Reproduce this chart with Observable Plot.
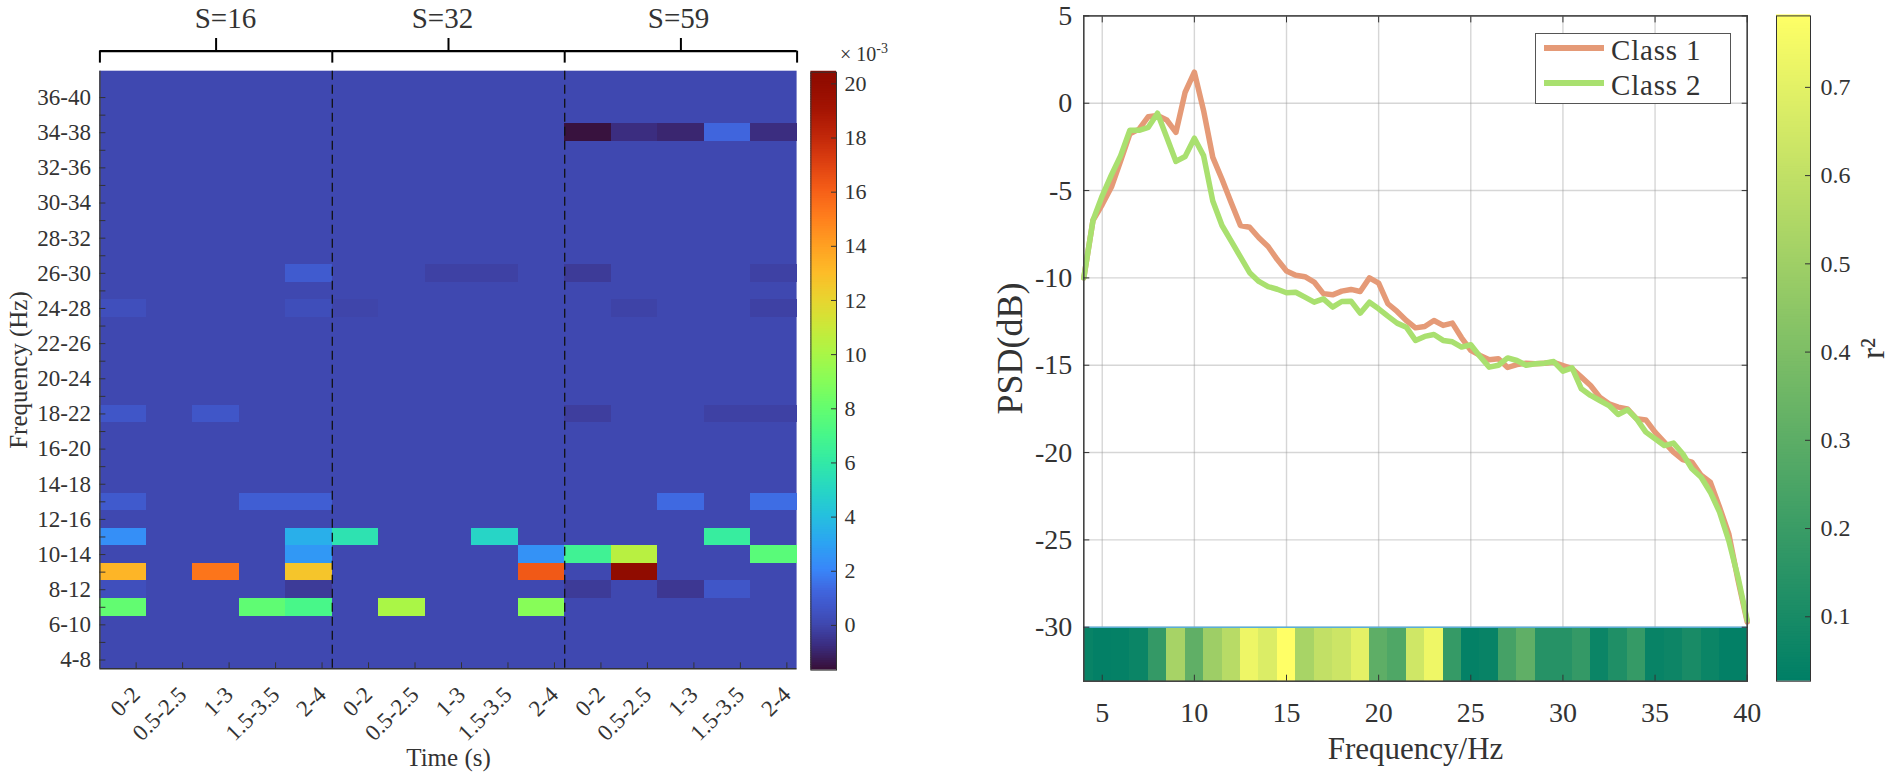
<!DOCTYPE html>
<html><head><meta charset="utf-8">
<script src="https://cdn.jsdelivr.net/npm/d3@7"></script>
<script src="https://cdn.jsdelivr.net/npm/@observablehq/plot@0.6"></script>
<style>
html,body{margin:0;padding:0;background:#fff}
#page{position:relative;width:1901px;height:781px;overflow:hidden;font-family:"Liberation Serif",serif;color:#333}
#page svg{position:absolute;overflow:visible;background:transparent}
.note{position:absolute;white-space:nowrap}
#legend{position:absolute;left:1535px;top:33px;width:194px;height:69px;background:#fff;border:1px solid #555;font-size:29px;letter-spacing:.8px;line-height:30px}
#legend .row{position:absolute;left:8px;display:flex;align-items:center;height:30px}
#legend .swatch{width:60px;height:5.5px;margin-right:7px;position:relative;top:-2px}
</style></head><body><div id="page"></div>
<script>
// --- heatmap: sessions, time windows, frequency bands ---
const timeWindows = ["0-2","0.5-2.5","1-3","1.5-3.5","2-4"];
const sessions = [{label:"S=16",start:0,end:5,at:2.7},{label:"S=32",start:5,end:10,at:7.37},{label:"S=59",start:10,end:15,at:12.45}];
const bandCount = 34, firstBand = 4;
// [column, band start (Hz), value ×10^-3]; every other cell is 0
const cellsS16 = [[4,26,0.8],[0,24,0.3],[4,24,0.25],[0,18,0.6],[2,18,0.6],[0,13,0.75],[3,13,0.9],[4,13,0.9],
  [0,11,2.3],[4,11,3.4],[4,10,2.6],[0,9,13.2],[2,9,15.3],[4,9,12.6],[0,8,0.3],[4,8,-0.4],[0,7,7.9],[3,7,7.8],[4,7,7.0]];
const cellsS32 = [[7,26,-0.2],[8,26,-0.2],[5,24,-0.1],[5,11,5.6],[8,11,4.9],[9,10,2.4],[9,9,16.2],[6,7,10.0],[9,7,9.0]];
const cellsS59 = [[10,34,-1.6],[11,34,-0.8],[12,34,-1.0],[13,34,1.2],[14,34,-0.8],[10,26,-0.4],[14,26,-0.2],[11,24,-0.15],[14,24,-0.2],
  [10,18,-0.3],[13,18,-0.2],[14,18,-0.2],[12,13,1.3],[14,13,1.4],[13,11,6.2],[10,10,6.6],[11,10,10.4],[14,10,7.6],[11,9,20.4],
  [10,8,-0.4],[12,8,-0.5],[13,8,0.6]];
const heatDomain = [-1.65, 20.43];
const heatTicks = [0,2,4,6,8,10,12,14,16,18,20];
// colour map: low end, then turbo from 2 upward
const heatLowStops = [-1.65,-0.8,0,0.6,1.2];
const heatLowColors = ["#38103a","#3b2d80","#3f48b0","#4056c8","#4065dd"];
const heatHighStops = [2,3,4,5,6,7,8,9,10,11,12,13,14,15,16,17,18,19,20,20.43];
// --- PSD curves (0.5 Hz steps from 4 to 40 Hz) ---
const psdFreq = d3.range(73).map(i => 4 + i*0.5);
const class1 = [-10,-6.7,-5.8,-4.8,-3.3,-1.75,-1.48,-0.77,-0.7,-0.96,-1.67,0.63,1.78,-0.42,-3.1,-4.35,-5.7,-7,-7.1,-7.7,-8.2,-8.95,-9.6,-9.85,-9.93,-10.24,-10.9,-10.97,-10.76,-10.66,-10.78,-10,-10.3,-11.48,-11.92,-12.44,-12.86,-12.78,-12.44,-12.72,-12.59,-13.43,-14.15,-14.44,-14.69,-14.63,-15.13,-14.96,-14.88,-14.92,-14.88,-14.83,-15.02,-15.2,-15.68,-16.16,-16.83,-17.21,-17.4,-17.5,-18.07,-18.13,-18.83,-19.4,-19.98,-20.4,-20.55,-21.3,-21.7,-23.13,-24.65,-27.3,-29.7];
const class2 = [-10,-6.7,-5.3,-4.1,-3,-1.55,-1.55,-1.38,-0.57,-1.95,-3.33,-3.05,-2,-3,-5.6,-7,-7.9,-8.8,-9.7,-10.2,-10.5,-10.65,-10.85,-10.82,-11.1,-11.39,-11.2,-11.67,-11.35,-11.33,-12.02,-11.39,-11.77,-12.19,-12.59,-12.82,-13.58,-13.35,-13.24,-13.58,-13.66,-13.96,-13.83,-14.5,-15.11,-15,-14.58,-14.73,-15,-14.92,-14.88,-14.79,-15.34,-15.15,-16.35,-16.73,-17.02,-17.31,-17.82,-17.55,-18.07,-18.83,-19.21,-19.6,-19.46,-20.07,-20.93,-21.41,-22.27,-23.41,-25.04,-27.13,-29.6];
// --- r² strip (1 Hz cells centred on 4..40 Hz) ---
const stripFreq = d3.range(4,41);
const r2 = [.05,.035,.04,.06,.18,.52,.31,.495,.57,.73,.675,.781,.525,.60,.63,.70,.305,.26,.64,.735,.185,.04,.05,.23,.31,.14,.14,.18,.06,.12,.185,.05,.065,.10,.06,.035,.035];
const r2Domain = [.027,.781];
const r2Ticks = [.1,.2,.3,.4,.5,.6,.7];
const psdXTicks = [5,10,15,20,25,30,35,40];
const psdYTicks = [-30,-25,-20,-15,-10,-5,0,5];
const orange = "#e59a77", green = "#a9e06f", ink = "#333", summer = ["#007f66","#ffff66"];
const font = '"Liberation Serif", serif';
const page = document.getElementById("page");
function place(svg,left,top){svg.style.left=left+"px";svg.style.top=top+"px";page.appendChild(svg);}
const turboAt = v => d3.interpolateTurbo((v-heatDomain[0])/(heatDomain[1]-heatDomain[0]));
const heatFill = {type:"linear",
  domain:[...heatLowStops,...heatHighStops],
  range:[...heatLowColors,...heatHighStops.map(turboAt)],clamp:true};
const cells = [...cellsS16,...cellsS32,...cellsS59].map(([col,f,v])=>({col,row:f-firstBand,v}));
const rowTicks = d3.range(bandCount-1).map(r=>r+0.5);
const colTicks = d3.range(sessions.length*timeWindows.length).map(c=>c+0.5);
const groupEdges = [...sessions.map(s=>s.start),sessions[sessions.length-1].end];

// ---------- A: heatmap ----------
place(Plot.plot({
  width:805,height:781,marginLeft:99.4,marginRight:8.4,marginTop:70.7,marginBottom:112.7,
  style:{fontFamily:font,background:"transparent",color:ink},
  x:{type:"linear",domain:[0,15]},y:{type:"linear",domain:[0,bandCount]},
  color:heatFill,
  marks:[
    Plot.rect([{v:0}],{x1:()=>0,x2:()=>15,y1:()=>0,y2:()=>bandCount,fill:"v"}),
    Plot.rect(cells,{x1:"col",x2:d=>d.col+1,y1:"row",y2:d=>d.row+1,fill:"v",shapeRendering:"crispEdges"}),
    Plot.ruleX(sessions.slice(1),{x:"start",stroke:"#111",strokeWidth:1.3,strokeDasharray:"9,5"}),
    Plot.ruleX([0],{stroke:"#444",strokeWidth:1.5}),
    Plot.ruleY([0],{stroke:"#333",strokeWidth:1.5}),
    Plot.axisY({ticks:rowTicks,tickSize:-6,tickPadding:15,fontSize:23,label:null,
      tickFormat:t=>{const r=t-0.5;return r%2===0?`${firstBand+r}-${firstBand+r+4}`:"";}}),
    Plot.axisX({ticks:colTicks,tickSize:-6,tickPadding:28,fontSize:23,label:null,tickRotate:-45,dx:13,textStroke:"none",
      tickFormat:t=>timeWindows[(t-0.5)%timeWindows.length]}),
    // brackets above the sessions
    Plot.ruleY(sessions,{x1:"start",x2:"end",y:()=>bandCount+1.14,stroke:"#000",strokeWidth:2.2}),
    Plot.ruleX(groupEdges,{x:d=>d,y1:()=>bandCount+0.46,y2:()=>bandCount+1.14,stroke:"#000",strokeWidth:2}),
    Plot.ruleX(sessions,{x:d=>(d.start+d.end)/2,y1:()=>bandCount+1.14,y2:()=>bandCount+1.86,stroke:"#000",strokeWidth:2}),
    Plot.text(sessions,{x:"at",y:()=>bandCount+3,text:"label",fontSize:29,fill:ink}),
    Plot.text(["Frequency (Hz)"],{frameAnchor:"left",textAnchor:"middle",dx:-81,rotate:-90,fontSize:25,fill:ink}),
    Plot.text(["Time (s)"],{frameAnchor:"bottom",dy:97,fontSize:25,fill:ink})
  ]
}),0,0);

// ---------- B: heatmap colour bar ----------
const heatLevels = d3.range(256).map(i=>heatDomain[0]+(heatDomain[1]-heatDomain[0])*i/256);
const heatStep = (heatDomain[1]-heatDomain[0])/256;
place(Plot.plot({
  width:95,height:781,marginLeft:5.4,marginRight:64,marginTop:71.7,marginBottom:111.4,
  style:{fontFamily:font,background:"transparent",color:ink},
  x:{axis:null,domain:[0,1]},y:{domain:heatDomain},color:heatFill,
  marks:[
    Plot.rect(heatLevels,{x1:()=>0,x2:()=>1,y1:d=>d,y2:d=>d+heatStep*1.4,fill:d=>d}),
    Plot.frame({stroke:"#333",strokeWidth:1}),
    Plot.axisY({anchor:"right",ticks:heatTicks,tickSize:-6,tickPadding:14,fontSize:22,label:null})
  ]
}),805,0);

// ---------- C: PSD chart ----------
const strip = stripFreq.map((f,i)=>({x1:Math.max(4,f-.5),x2:Math.min(40,f+.5),v:r2[i]}));
const psdRows = s => psdFreq.map((f,i)=>({f,v:s[i]}));
const r2Color = {type:"linear",domain:r2Domain,range:summer,clamp:true};
place(Plot.plot({
  width:800,height:781,marginLeft:133.3,marginRight:3.3,marginTop:15.4,marginBottom:100.3,
  style:{fontFamily:font,background:"transparent",color:ink},
  x:{domain:[4,40]},y:{domain:[-33.09,5]},color:r2Color,
  marks:[
    Plot.gridX(psdXTicks,{stroke:"#999",strokeOpacity:.4,strokeWidth:1.4}),
    Plot.gridY(psdYTicks,{stroke:"#999",strokeOpacity:.4,strokeWidth:1.4}),
    Plot.rect(strip,{x1:"x1",x2:"x2",y1:()=>-33.09,y2:()=>-30,fill:"v",shapeRendering:"crispEdges"}),
    Plot.ruleY([-30],{stroke:"#5aaed6",strokeWidth:1.5}),
    Plot.line(psdRows(class1),{x:"f",y:"v",stroke:orange,strokeWidth:5.5,strokeLinejoin:"round"}),
    Plot.line(psdRows(class2),{x:"f",y:"v",stroke:green,strokeWidth:5.5,strokeLinejoin:"round"}),
    Plot.frame({stroke:"#444",strokeWidth:1.6}),
    Plot.axisY({ticks:psdYTicks,tickSize:-6,tickPadding:17.5,fontSize:28,label:null,tickFormat:d=>String(d)}),
    Plot.axisY({anchor:"right",ticks:psdYTicks,tickSize:-6,tickFormat:()=>"",label:null}),
    Plot.axisX({ticks:psdXTicks,tickSize:-6,tickPadding:27,fontSize:28,label:null}),
    Plot.axisX({anchor:"top",ticks:psdXTicks,tickSize:-6,tickFormat:()=>"",label:null}),
    Plot.text(["PSD(dB)"],{frameAnchor:"left",textAnchor:"middle",dx:-73,rotate:-90,fontSize:36,fill:ink}),
    Plot.text(["Frequency/Hz"],{frameAnchor:"bottom",dy:78,fontSize:31,fill:ink})
  ]
}),950,0);

// ---------- D: r² colour bar ----------
const r2Levels = d3.range(256).map(i=>r2Domain[0]+(r2Domain[1]-r2Domain[0])*i/256);
const r2Step = (r2Domain[1]-r2Domain[0])/256;
place(Plot.plot({
  width:151,height:781,marginLeft:26,marginRight:91,marginTop:15.4,marginBottom:100.3,
  style:{fontFamily:font,background:"transparent",color:ink},
  x:{axis:null,domain:[0,1]},y:{domain:r2Domain},color:r2Color,
  marks:[
    Plot.rect(r2Levels,{x1:()=>0,x2:()=>1,y1:d=>d,y2:d=>d+r2Step*1.4,fill:d=>d}),
    Plot.frame({stroke:"#333",strokeWidth:1}),
    Plot.axisY({anchor:"right",ticks:r2Ticks,tickSize:-6,tickPadding:16,fontSize:24,label:null,tickFormat:d3.format(".1f")}),
    Plot.text(["r²"],{frameAnchor:"right",textAnchor:"middle",dx:63,rotate:-90,fontSize:33,fill:ink})
  ]
}),1750,0);

// ---------- exponent note and legend ----------
const note=document.createElement("div");note.className="note";note.style.cssText="left:840px;top:43px;font-size:20px";
note.innerHTML='× 10<sup style="font-size:14px;line-height:0">-3</sup>';page.appendChild(note);
const legend=document.createElement("div");legend.id="legend";
[["Class 1",orange,1],["Class 2",green,36]].forEach(([t,c,top])=>{
  const r=document.createElement("div");r.className="row";r.style.top=top+"px";
  const s=document.createElement("span");s.className="swatch";s.style.background=c;
  const l=document.createElement("span");l.textContent=t;
  r.append(s,l);legend.appendChild(r);
});
page.appendChild(legend);
</script></body></html>
